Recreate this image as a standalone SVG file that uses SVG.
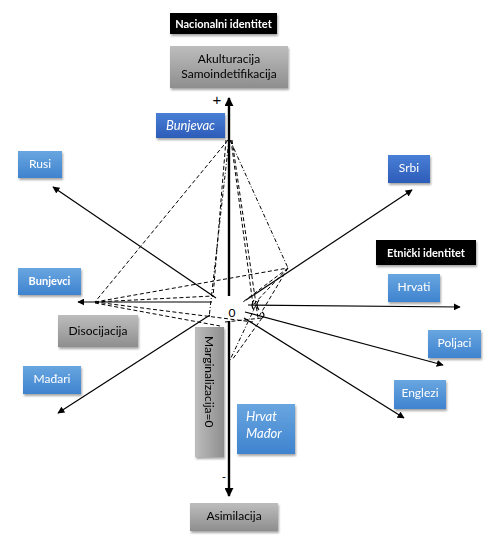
<svg xmlns="http://www.w3.org/2000/svg" width="495" height="545" viewBox="0 0 495 545">
<defs>
<linearGradient id="gBlue" x1="0" y1="0" x2="0" y2="1"><stop offset="0" stop-color="#69a6e0"/><stop offset="1" stop-color="#3f83cf"/></linearGradient>
<linearGradient id="gDark" x1="0" y1="0" x2="0" y2="1"><stop offset="0" stop-color="#4a7fd6"/><stop offset="1" stop-color="#2c5cb8"/></linearGradient>
<linearGradient id="gGray" x1="0" y1="0" x2="0" y2="1"><stop offset="0" stop-color="#bdbdbd"/><stop offset="1" stop-color="#8e8e8e"/></linearGradient>
<linearGradient id="gGrayH" x1="0" y1="0" x2="1" y2="0"><stop offset="0" stop-color="#bdbdbd"/><stop offset="1" stop-color="#8e8e8e"/></linearGradient>
<filter id="sh" x="-20%" y="-20%" width="150%" height="160%"><feDropShadow dx="1" dy="2" stdDeviation="1.2" flood-color="#000" flood-opacity="0.35"/></filter>
<marker id="ar" viewBox="0 0 10 10" refX="9" refY="5" markerWidth="7" markerHeight="7" markerUnits="userSpaceOnUse" orient="auto"><path d="M0,0 L10,5 L0,10 z" fill="#000"/></marker>
<marker id="arB" viewBox="0 0 10 10" refX="9" refY="5" markerWidth="9" markerHeight="9" markerUnits="userSpaceOnUse" orient="auto"><path d="M0,0 L10,5 L0,10 z" fill="#000"/></marker>
</defs>
<style>
text{font-family:Lato,"Liberation Sans","DejaVu Sans",sans-serif;font-size:12px;}
.w{fill:#fff;}
.k{fill:#000;}
.b{font-weight:bold;font-size:11px;}
.i{font-style:italic;font-size:13px;}
.plus{font-family:"Liberation Sans",sans-serif;font-size:15px;}
.ax{stroke:#000;stroke-width:1.2;fill:none;}
.axB{stroke:#000;stroke-width:2.4;fill:none;}
.d{stroke:#000;stroke-width:1;stroke-dasharray:4 2.5;fill:none;}
.dd{stroke:#000;stroke-width:1;stroke-dasharray:4 2 1 2;fill:none;}
</style>
<rect width="495" height="545" fill="#fff"/>
<g id="connectors">
<line class="d" x1="228" y1="140" x2="95" y2="302"/>
<line class="d" x1="226" y1="140" x2="213" y2="297"/>
<line class="dd" x1="229" y1="140" x2="209" y2="318"/>
<line class="d" x1="231" y1="140" x2="253" y2="305"/>
<line class="d" x1="232" y1="140" x2="258" y2="318"/>
<line class="dd" x1="230" y1="140" x2="288" y2="268"/>
<line class="d" x1="95" y1="302" x2="288" y2="268"/>
<line class="d" x1="95" y1="302" x2="213" y2="296"/>
<line class="d" x1="95" y1="302" x2="253" y2="322"/>
<line class="d" x1="95" y1="303" x2="220" y2="326"/>
<line class="d" x1="288" y1="268" x2="253" y2="305"/>
<line class="d" x1="288" y1="268" x2="258" y2="318"/>
<line class="d" x1="288" y1="268" x2="243" y2="302"/>
<line class="dd" x1="256" y1="305" x2="230" y2="360"/>
<line class="d" x1="262" y1="318" x2="232" y2="360"/>
<line class="d" x1="225" y1="322" x2="262" y2="318"/>
<path class="ax" stroke-width="0.8" d="M254,300 q-4,5 0,10"/>
<path class="ax" stroke-width="0.8" d="M259,300 q-4,5 0,10"/>
<path class="ax" stroke-width="0.8" d="M262,312 q4,3 0,6"/>
<line class="axB" x1="229" y1="296" x2="229" y2="98" marker-end="url(#arB)"/>
<line class="axB" x1="229" y1="321" x2="229" y2="496" marker-end="url(#arB)"/>
<line class="ax" x1="248" y1="305" x2="460" y2="307" marker-end="url(#ar)"/>
<line class="ax" x1="212" y1="302" x2="78" y2="302" marker-end="url(#ar)"/>
<line class="ax" x1="216" y1="298" x2="53" y2="187" marker-end="url(#ar)"/>
<line class="ax" x1="246" y1="300" x2="412" y2="190" marker-end="url(#ar)"/>
<line class="ax" x1="210" y1="315" x2="58" y2="413" marker-end="url(#ar)"/>
<line class="ax" x1="245" y1="312" x2="443" y2="365" marker-end="url(#ar)"/>
<line class="ax" x1="244" y1="318" x2="404" y2="418" marker-end="url(#ar)"/>
<text x="232" y="317" text-anchor="middle" class="k">0</text>
<text x="217" y="105" text-anchor="middle" class="k plus">+</text>
<text x="224" y="481" text-anchor="middle" class="k">-</text>
</g>
<g id="nacionalni" filter="url(#sh)"><rect x="170" y="13" width="107" height="21" fill="#000"/><text x="223.5" y="27.5" text-anchor="middle" class="w b">Nacionalni identitet</text></g>
<g id="akulturacija" filter="url(#sh)"><rect x="170" y="46" width="118" height="42" fill="url(#gGray)"/><text x="229" y="63" text-anchor="middle" class="k">Akulturacija</text><text x="229" y="78" text-anchor="middle" class="k">Samoindetifikacija</text></g>
<g id="bunjevac" filter="url(#sh)"><rect x="156" y="113" width="69" height="25" fill="url(#gDark)"/><text x="190.5" y="130" text-anchor="middle" class="w i">Bunjevac</text></g>
<g id="rusi" filter="url(#sh)"><rect x="18" y="151" width="44" height="27" fill="url(#gBlue)"/><text x="40" y="168" text-anchor="middle" class="w">Rusi</text></g>
<g id="srbi" filter="url(#sh)"><rect x="388" y="155" width="42" height="28" fill="url(#gDark)"/><text x="409" y="172" text-anchor="middle" class="w">Srbi</text></g>
<g id="etnicki" filter="url(#sh)"><rect x="376" y="240" width="100" height="25" fill="#000"/><text x="426" y="256.5" text-anchor="middle" class="w b">Etnički identitet</text></g>
<g id="hrvati" filter="url(#sh)"><rect x="388" y="274" width="52" height="28" fill="url(#gBlue)"/><text x="414" y="291" text-anchor="middle" class="w">Hrvati</text></g>
<g id="bunjevci" filter="url(#sh)"><rect x="18" y="268" width="63" height="27" fill="url(#gBlue)"/><text x="49.5" y="285" text-anchor="middle" class="w b">Bunjevci</text></g>
<g id="disocijacija" filter="url(#sh)"><rect x="58" y="315" width="80" height="32" fill="url(#gGray)"/><text x="98" y="335" text-anchor="middle" class="k">Disocijacija</text></g>
<g id="marginalizacija" filter="url(#sh)"><rect x="195" y="327" width="29" height="130" fill="url(#gGrayH)"/><text transform="translate(205,336) rotate(90)" x="0" y="0" class="k">Marginalizacija=0</text></g>
<g id="madari" filter="url(#sh)"><rect x="23" y="366" width="58" height="28" fill="url(#gBlue)"/><text x="52" y="383" text-anchor="middle" class="w">Mađari</text></g>
<g id="hrvatmador" filter="url(#sh)"><rect x="237" y="404" width="58" height="50" fill="url(#gBlue)"/><text x="246" y="421" class="w i">Hrvat</text><text x="246" y="438" class="w i">Mađor</text></g>
<g id="poljaci" filter="url(#sh)"><rect x="428" y="330" width="53" height="28" fill="url(#gBlue)"/><text x="454.5" y="347" text-anchor="middle" class="w">Poljaci</text></g>
<g id="englezi" filter="url(#sh)"><rect x="394" y="380" width="52" height="29" fill="url(#gBlue)"/><text x="420" y="397" text-anchor="middle" class="w">Englezi</text></g>
<g id="asimilacija" filter="url(#sh)"><rect x="190" y="503" width="88" height="28" fill="url(#gGray)"/><text x="234" y="520" text-anchor="middle" class="k">Asimilacija</text></g>
</svg>
